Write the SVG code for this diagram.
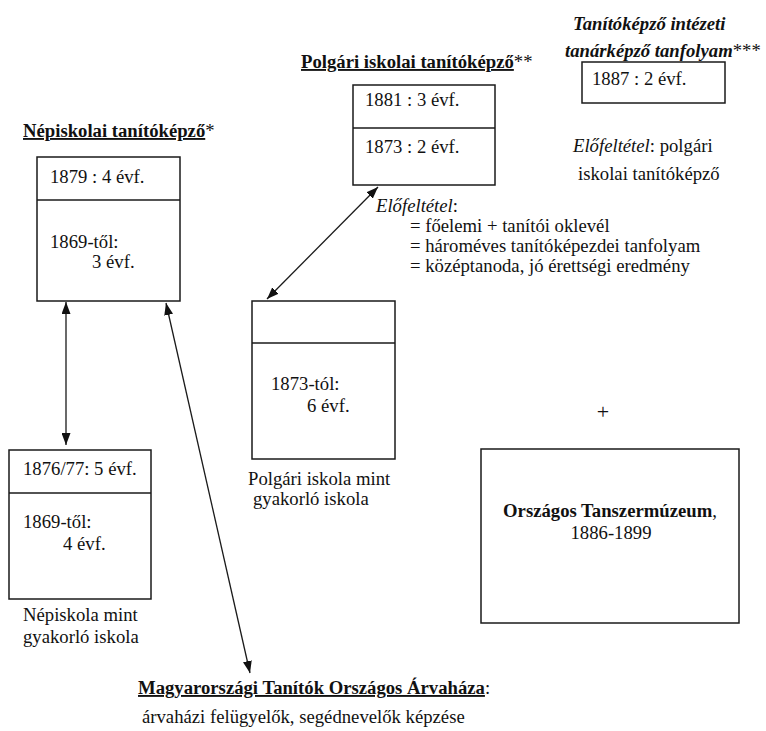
<svg xmlns="http://www.w3.org/2000/svg" width="766" height="731" viewBox="0 0 766 731" font-family="'Liberation Serif', 'DejaVu Serif', 'Times New Roman', Times, serif">
<style>
text{font-family:'Liberation Serif','DejaVu Serif','Times New Roman',Times,serif;font-size:18.7px;fill:#111}
.b{font-weight:bold}
.bi{font-weight:bold;font-style:italic}
.i{font-style:italic}
.u{text-decoration:underline}
.box{fill:none;stroke:#1a1a1a;stroke-width:1.5}
.ln{stroke:#1a1a1a;stroke-width:1.5}
.con{fill:none;stroke:#1a1a1a;stroke-width:1.3;marker-end:url(#ah)}
.dbl{marker-start:url(#ah)}
</style>
<defs>
<marker id="ah" viewBox="0 0 12 9" refX="12" refY="4.5" markerWidth="12" markerHeight="9" markerUnits="userSpaceOnUse" orient="auto-start-reverse">
<path d="M0,0 L12,4.5 L0,9 z" fill="#111"/>
</marker>
</defs>
<rect width="766" height="731" fill="#fff"/>

<g id="nepiskolai-kepzo">
<text x="23" y="137"><tspan class="b u">Népiskolai tanítóképző</tspan>*</text>
<rect class="box" x="37" y="157" width="143" height="144"/>
<line class="ln" x1="37" y1="200" x2="180" y2="200"/>
<text x="50" y="183">1879 : 4 évf.</text>
<text x="50" y="248">1869-től:</text>
<text x="92" y="268">3 évf.</text>
</g>

<g id="nepiskola-gyakorlo">
<rect class="box" x="9" y="450" width="142" height="149"/>
<line class="ln" x1="9" y1="493" x2="151" y2="493"/>
<text x="23" y="475">1876/77: 5 évf.</text>
<text x="23" y="528">1869-től:</text>
<text x="63" y="550">4 évf.</text>
<text x="23" y="621">Népiskola mint</text>
<text x="23" y="643">gyakorló iskola</text>
</g>

<g id="polgari-kepzo">
<text x="301" y="68"><tspan class="b u">Polgári iskolai tanítóképző</tspan>**</text>
<rect class="box" x="353" y="85" width="142" height="100"/>
<line class="ln" x1="353" y1="128" x2="495" y2="128"/>
<text x="365" y="106">1881 : 3 évf.</text>
<text x="365" y="153">1873 : 2 évf.</text>
</g>

<g id="elofeltetel-polgari">
<text x="376" y="212"><tspan class="i">Előfeltétel</tspan>:</text>
<text x="410" y="232">= főelemi + tanítói oklevél</text>
<text x="410" y="252">= hároméves tanítóképezdei tanfolyam</text>
<text x="410" y="272">= középtanoda, jó érettségi eredmény</text>
</g>

<g id="polgari-gyakorlo">
<rect class="box" x="252" y="301" width="143" height="158"/>
<line class="ln" x1="252" y1="343" x2="395" y2="343"/>
<text x="271" y="390">1873-tól:</text>
<text x="307" y="412">6 évf.</text>
<text x="248" y="485">Polgári iskola mint</text>
<text x="253" y="505">gyakorló iskola</text>
</g>

<g id="tanarkepzo">
<text x="573" y="30" class="bi">Tanítóképző intézeti</text>
<text x="565" y="57"><tspan class="bi">tanárképző tanfolyam</tspan>***</text>
<rect class="box" x="582" y="62" width="143" height="41"/>
<text x="592" y="85">1887 : 2 évf.</text>
<text x="573" y="152"><tspan class="i">Előfeltétel</tspan>: polgári</text>
<text x="578" y="180">iskolai tanítóképző</text>
</g>

<g id="plus">
<text x="603" y="419" text-anchor="middle" style="font-size:22px">+</text>
</g>

<g id="tanszermuzeum">
<rect class="box" x="481" y="449" width="258" height="174"/>
<text x="610" y="517" text-anchor="middle"><tspan class="b">Országos Tanszermúzeum</tspan>,</text>
<text x="611" y="539" text-anchor="middle">1886-1899</text>
</g>

<g id="arvahaz">
<text x="138" y="694"><tspan class="b u">Magyarországi Tanítók Országos Árvaháza</tspan>:</text>
<text x="142" y="723">árvaházi felügyelők, segédnevelők képzése</text>
</g>

<g id="connectors">
<line class="con dbl" x1="66" y1="302" x2="66" y2="445"/>
<line class="con dbl" x1="166" y1="303" x2="250" y2="673"/>
<line class="con dbl" x1="378" y1="187" x2="267" y2="299"/>
</g>
</svg>
